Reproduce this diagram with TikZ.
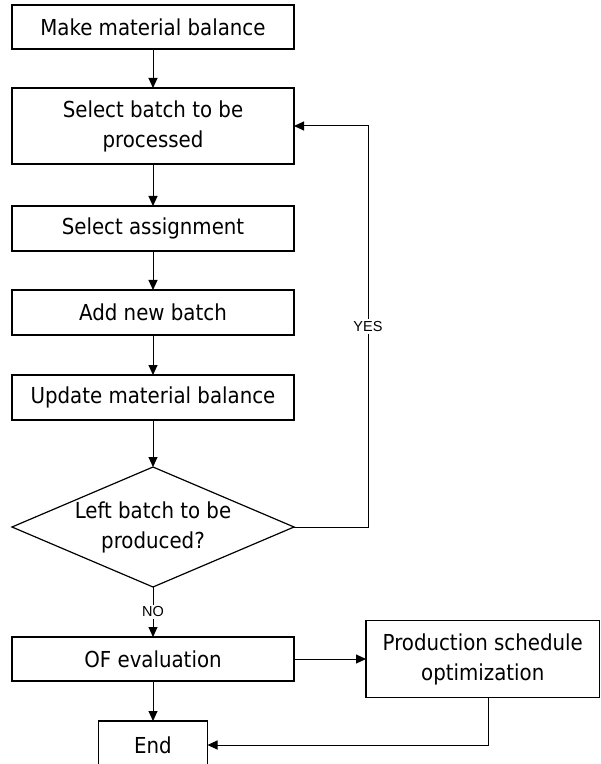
\documentclass[tikz,border=0pt]{standalone}
\usepackage{fontspec}
\setmainfont{DejaVu Sans Condensed}
\newfontfamily\labelfont{Liberation Sans}
\usetikzlibrary{arrows.meta,positioning,shapes.geometric}

\begin{document}
\begin{tikzpicture}[
node distance=20pt and 36pt,
box/.style={draw, line width=0.6pt, outer sep=0pt, minimum width=141pt, minimum height=22.5pt, align=center, inner sep=2pt, font=\fontsize{11}{15}\selectfont},
decision/.style={draw, diamond, line width=0.6pt, outer sep=0pt, minimum width=141pt, minimum height=60pt, aspect=2.35, inner sep=0pt, align=center, font=\fontsize{11}{15}\selectfont},
tag/.style={fill=white, inner sep=1pt, font=\labelfont\fontsize{7.25}{8}\selectfont},
arrow/.style={-{Triangle[length=5pt, width=4.5pt]}, line width=0.5pt}
]
\useasboundingbox (0,0) rectangle (300pt,-382pt);
\node[box, minimum height=22pt] (balance) at (76.5pt,-13.5pt) {Make material balance};
\node[box, minimum height=38pt, below=19.5pt of balance] (select) {Select batch to be\\ processed};
\node[box, below=21pt of select] (assign) {Select assignment};
\node[box, below=19.5pt of assign] (addbatch) {Add new batch};
\node[box, below=of addbatch] (update) {Update material balance};
\node[decision, below=23.5pt of update] (remaining) {Left batch to be\\ produced?};
\node[box, minimum height=22pt, below=25pt of remaining] (ofeval) {OF evaluation};
\node[box, right=of ofeval, minimum width=116.8pt, minimum height=38.5pt] (prodopt) {Production schedule\\ optimization};
\node[box, below=of ofeval, minimum width=54.5pt, minimum height=24pt] (stop) {End};
\coordinate[right=37pt of remaining.east] (loopback);
% main chain
\draw[arrow] (balance) -- (select);
\draw[arrow] (select) -- (assign);
\draw[arrow] (assign) -- (addbatch);
\draw[arrow] (addbatch) -- (update);
\draw[arrow] (update) -- (remaining);
\draw[arrow] (remaining) -- node[tag] {NO} (ofeval);
% back to batch selection
\draw[arrow] (remaining.east) -- (loopback) |- node[tag, pos=0.25] {YES} (select.east);
\draw[arrow] (ofeval) -- (prodopt);
\draw[arrow] (ofeval) -- (stop);
\draw[arrow] ([xshift=3pt]prodopt.south) |- (stop.east);
\end{tikzpicture}
\end{document}
